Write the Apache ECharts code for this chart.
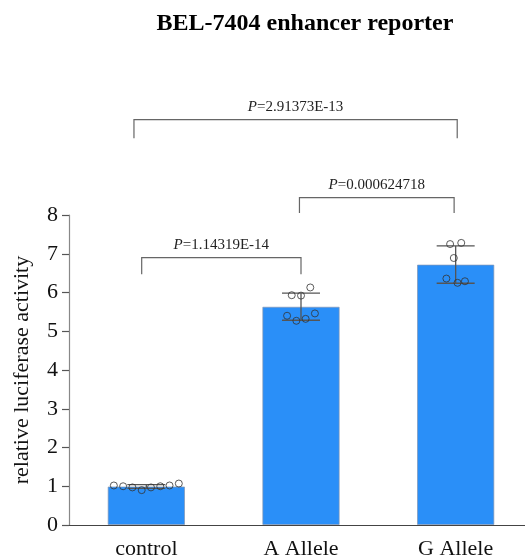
<!DOCTYPE html>
<html>
<head>
<meta charset="utf-8">
<title>BEL-7404 enhancer reporter</title>
<script src="https://cdn.jsdelivr.net/npm/echarts@6/dist/echarts.min.js"></script>
<style>
  html, body { margin: 0; padding: 0; background: #ffffff; }
  #chart { width: 525px; height: 560px; }
</style>
</head>
<body>
<div id="chart"></div>
<script>
// Luciferase readings, normalised to the empty-vector control
const categories = ['control', 'A Allele', 'G Allele'];
const controlReplicates = [1.02, 1.00, 0.97, 0.90, 0.97, 1.00, 1.02, 1.07];
const alleleAReplicates = [5.40, 5.93, 5.27, 5.92, 5.32, 6.13, 5.46];
const alleleGReplicates = [6.36, 7.25, 6.89, 6.25, 7.28, 6.29];
const yTickLabels = ['0', '1', '2', '3', '4', '5', '6', '7', '8'];

// Pairwise comparisons (group indices), their P values and bracket heights
const comparisonPairs = [[0, 1], [1, 2], [0, 2]];
const pValues = ['1.14319E-14', '0.000624718', '2.91373E-13'];
const bracketTop = [6.90, 8.45, 10.46];
const bracketFoot = [6.47, 8.05, 9.98];

// ---- summary statistics (mean ± SD) ----
const groups = [controlReplicates, alleleAReplicates, alleleGReplicates];
const mean = arr => arr.reduce((s, v) => s + v, 0) / arr.length;
const sd = arr => {
  const m = mean(arr);
  return Math.sqrt(arr.reduce((s, v) => s + (v - m) * (v - m), 0) / (arr.length - 1));
};
const means = groups.map(mean);
const sds = groups.map(sd);

// ---- styling ----
const SERIF = '"Liberation Serif", "Times New Roman", Times, serif';
const BAR_COLOR = '#2a8ff8';
const swarmWidth = [0.42, 0.18, 0.12];          // horizontal spread of dots, in category units
const bracketNudge = [[-0.03, 0], [-0.01, -0.01], [-0.08, 0.01]];
const CAP_HALF = 19;                               // error-bar cap half width, px

const dotData = [];
groups.forEach((vals, gi) => {
  const n = vals.length;
  vals.forEach((v, j) => {
    const off = n > 1 ? (j / (n - 1) - 0.5) * swarmWidth[gi] : 0;
    dotData.push([gi + off, v]);
  });
});

const errorData = means.map((m, i) => [i, m, sds[i]]);
const bracketData = comparisonPairs.map((p, i) => [
  p[0] + bracketNudge[i][0], p[1] + bracketNudge[i][1], bracketTop[i], bracketFoot[i], i
]);

const chart = echarts.init(document.getElementById('chart'), null, { renderer: 'canvas' });

chart.setOption({
  animation: false,
  backgroundColor: '#ffffff',
  graphic: [{
    type: 'text',
    x: 305, y: 24,
    style: {
      text: 'BEL-7404 enhancer reporter',
      font: 'bold 24px ' + SERIF,
      fill: '#000',
      align: 'center',
      verticalAlign: 'middle'
    }
  }],
  // the plot area runs slightly past the right edge of the canvas
  grid: { left: 69, top: 215, width: 464, height: 310, outerBoundsMode: 'none' },
  xAxis: [{
    type: 'category',
    data: categories,
    boundaryGap: true,
    axisLine: { lineStyle: { color: '#444', width: 1.2 } },
    axisTick: { alignWithLabel: true, length: 8, lineStyle: { color: '#555', width: 1.2 } },
    axisLabel: { fontFamily: SERIF, fontSize: 22, color: '#111', margin: 13 },
    splitLine: { show: false }
  }, {
    type: 'value',
    min: -0.5, max: 2.5,
    show: false
  }],
  yAxis: [{
    type: 'value',
    min: 0, max: yTickLabels.length - 1, interval: 1,
    name: 'relative luciferase activity',
    nameLocation: 'middle',
    nameRotate: 90,
    nameGap: 36,
    nameTextStyle: { fontFamily: SERIF, fontSize: 22, color: '#111' },
    axisLine: { show: true, onZero: false, lineStyle: { color: '#888', width: 1.2 } },
    axisTick: { show: true, length: 7, lineStyle: { color: '#555', width: 1.2 } },
    axisLabel: {
      fontFamily: SERIF, fontSize: 22, color: '#111', margin: 11,
      formatter: v => yTickLabels[v]
    },
    splitLine: { show: false }
  }],
  series: [{
    type: 'bar',
    xAxisIndex: 0, yAxisIndex: 0,
    data: means,
    barWidth: '50%',
    itemStyle: { color: BAR_COLOR, borderColor: 'rgba(130,150,180,0.7)', borderWidth: 1 },
    z: 1
  }, {
    type: 'custom',
    xAxisIndex: 1, yAxisIndex: 0,
    data: errorData,
    encode: { x: 0, y: 1 },
    z: 3,
    renderItem: (params, api) => {
      const x = api.value(0), m = api.value(1), s = api.value(2);
      const hi = api.coord([x, m + s]);
      const lo = api.coord([x, m - s]);
      const st = { stroke: '#555', lineWidth: 1.3 };
      return {
        type: 'group',
        children: [
          { type: 'line', shape: { x1: hi[0], y1: hi[1], x2: lo[0], y2: lo[1] }, style: st },
          { type: 'line', shape: { x1: hi[0] - CAP_HALF, y1: hi[1], x2: hi[0] + CAP_HALF, y2: hi[1] }, style: st },
          { type: 'line', shape: { x1: lo[0] - CAP_HALF, y1: lo[1], x2: lo[0] + CAP_HALF, y2: lo[1] }, style: st }
        ]
      };
    }
  }, {
    type: 'scatter',
    xAxisIndex: 1, yAxisIndex: 0,
    data: dotData,
    symbol: 'circle',
    symbolSize: 7,
    itemStyle: { color: 'rgba(255,255,255,0)', borderColor: '#333', borderWidth: 1 },
    z: 4
  }, {
    type: 'custom',
    xAxisIndex: 1, yAxisIndex: 0,
    data: bracketData,
    encode: { x: 0, y: 2 },
    clip: false,
    z: 5,
    renderItem: (params, api) => {
      const x0 = api.value(0), x1 = api.value(1), top = api.value(2), foot = api.value(3);
      const idx = api.value(4);
      const a = api.coord([x0, top]);
      const b = api.coord([x1, top]);
      const fa = api.coord([x0, foot]);
      const fb = api.coord([x1, foot]);
      return {
        type: 'group',
        children: [{
          type: 'polyline',
          shape: { points: [fa, a, b, fb] },
          style: { stroke: '#666', lineWidth: 1.2, fill: null }
        }, {
          type: 'text',
          x: (a[0] + b[0]) / 2,
          y: a[1] - 5,
          style: {
            text: '{i|P}{n|=' + pValues[idx] + '}',
            rich: {
              i: { fontStyle: 'italic', fontSize: 15, fontFamily: SERIF, fill: '#222' },
              n: { fontSize: 15, fontFamily: SERIF, fill: '#222' }
            },
            fontSize: 15,
            fontFamily: SERIF,
            fill: '#222',
            align: 'center',
            verticalAlign: 'bottom'
          }
        }]
      };
    }
  }]
});
</script>
</body>
</html>
